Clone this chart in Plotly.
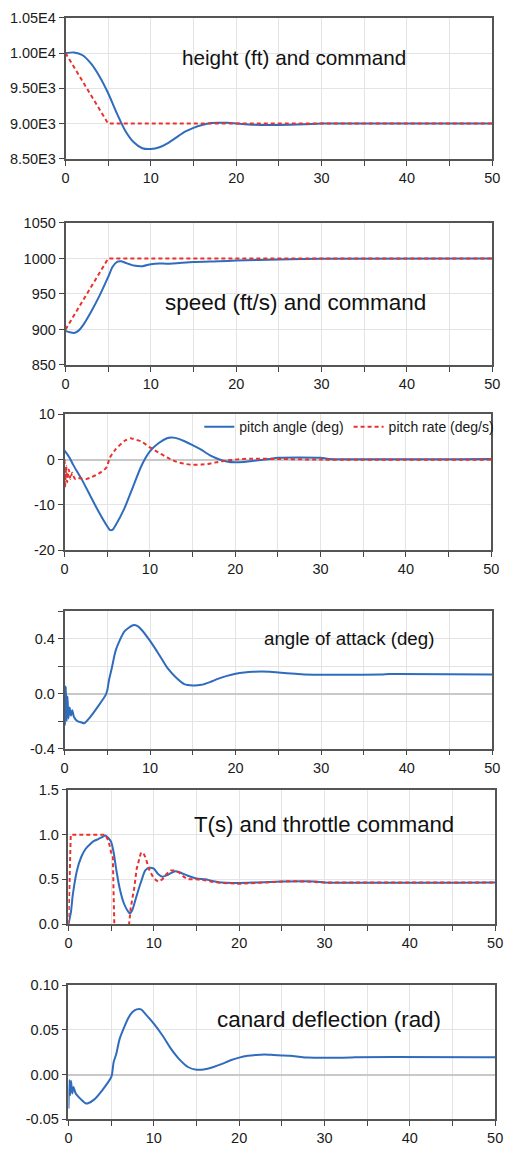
import plotly.graph_objects as go

# ---------------- data ----------------
# Panel 1: height (ft) and command
t_h = [0, 1, 2, 3, 4, 5, 6, 7, 8, 9, 10, 11, 12, 13, 14, 15, 16, 17, 18, 19, 20, 22, 25, 28, 30, 50]
height = [10000, 10010, 9970, 9850, 9665, 9430, 9150, 8900, 8735, 8650, 8640, 8665, 8725, 8805, 8885,
          8940, 8980, 9008, 9012, 9012, 9003, 8985, 8982, 8990, 9000, 9000]
t_hcmd = [0, 5, 50]
height_cmd = [10000, 9000, 9000]

# Panel 2: speed (ft/s) and command
t_v = [0, 0.5, 1, 1.5, 2, 3, 4, 5, 5.5, 6, 6.5, 7, 8, 9, 10, 11, 12, 15, 18, 20, 25, 30, 50]
speed = [898, 896, 895, 898, 905, 925, 948, 974, 988, 995, 996, 994, 990, 989, 992, 993, 992.5,
         995, 996, 997, 998.5, 999.5, 1000]
t_vcmd = [0, 5, 50]
speed_cmd = [900, 1000, 1000]

# Panel 3: pitch angle and pitch rate
t_th = [0, 0.5, 1, 2, 3, 4, 5, 5.3, 5.6, 6, 7, 8, 9, 10, 11, 12, 12.5, 13, 14, 15, 16, 17, 18, 19,
        20, 21, 22, 23, 24, 25, 30, 31, 50]
pitch_angle = [2.0, 0.7, -1.1, -4.3, -7.9, -11.5, -14.7, -15.5, -15.5, -14.4, -10.8, -6.1, -1.4, 1.8,
               3.6, 4.7, 4.9, 4.8, 4.1, 3.2, 2.2, 1.0, 0.15, -0.4, -0.6, -0.5, -0.3, -0.1, 0.15, 0.4,
               0.4, 0.15, 0.15]
t_q = [0, 0.05, 0.2, 0.3, 0.5, 0.7, 0.9, 1.2, 1.5, 2, 2.5, 3, 4, 4.8, 5, 5.3, 6, 7, 7.7, 8, 9, 10,
       11, 12, 13, 14, 15, 16, 17, 18, 19, 20, 21, 22, 25, 30, 50]
pitch_rate = [0, -6.1, -1.4, -5.0, -2.2, -4.3, -2.9, -4.2, -4.0, -4.2, -4.3, -4.0, -3.1, -2.0, -1.4,
              0.4, 2.3, 4.1, 4.7, 4.6, 4.0, 2.7, 1.6, 0.5, -0.4, -0.9, -1.15, -1.1, -0.9, -0.5,
              -0.2, 0, 0.15, 0.2, 0.15, 0, 0]

# Panel 4: angle of attack (deg)
t_a = [0, 0.05, 0.15, 0.25, 0.35, 0.45, 0.6, 0.75, 0.9, 1.1, 1.5, 2, 2.3, 3, 4, 4.8, 5, 5.2, 5.5,
       6, 7, 8, 8.5, 9, 10, 11, 12, 13, 14, 15, 16, 17, 18, 19, 20, 21, 22, 24, 25, 27, 28, 37,
       38, 50]
alpha = [0.06, -0.23, 0.05, -0.2, -0.02, -0.18, -0.1, -0.16, -0.12, -0.17, -0.2, -0.21, -0.215,
         -0.17, -0.085, -0.01, 0.025, 0.1, 0.18, 0.32, 0.455, 0.50, 0.495, 0.467, 0.385, 0.29,
         0.19, 0.12, 0.07, 0.06, 0.065, 0.085, 0.11, 0.13, 0.145, 0.155, 0.16, 0.16, 0.155, 0.145,
         0.14, 0.14, 0.143, 0.14]

# Panel 5: T(s) and throttle command
t_T = [0, 0.3, 0.5, 1, 1.5, 2, 2.5, 3, 3.5, 4, 4.3, 4.7, 5, 5.3, 5.6, 6, 6.5, 7, 7.2, 7.5, 8, 8.5,
       9, 9.5, 10, 10.5, 11, 11.5, 12, 12.5, 13, 14, 15, 16, 17, 18, 20, 22, 25, 29, 30, 50]
thrust = [0, 0.14, 0.32, 0.6, 0.75, 0.84, 0.89, 0.93, 0.95, 0.975, 0.99, 0.96, 0.92, 0.8, 0.61,
          0.4, 0.23, 0.14, 0.12, 0.16, 0.32, 0.47, 0.6, 0.63, 0.62, 0.56, 0.53, 0.545, 0.57, 0.59,
          0.58, 0.54, 0.51, 0.5, 0.48, 0.465, 0.46, 0.465, 0.475, 0.475, 0.465, 0.465]
t_tc = [0, 0.27, 4.3, 4.7, 5, 5.2, 5.3, 5.4, 7.0, 7.3, 7.7, 8, 8.5, 8.8, 9, 9.5, 10, 10.5, 11,
        11.5, 12, 12.5, 13, 13.5, 14, 15, 16, 17, 18, 20, 22, 24, 26, 28, 30, 50]
throttle_cmd = [0, 1.0, 1.0, 0.93, 0.8, 0.76, 0.3, -0.1, -0.1, 0.18, 0.4, 0.62, 0.8, 0.79, 0.75,
                0.6, 0.51, 0.475, 0.5, 0.56, 0.6, 0.6, 0.575, 0.53, 0.5, 0.5, 0.49, 0.47, 0.46,
                0.45, 0.46, 0.47, 0.48, 0.475, 0.465, 0.465]

# Panel 6: canard deflection (rad)
t_c = [0, 0.1, 0.2, 0.3, 0.45, 0.6, 0.8, 1, 1.5, 2, 2.3, 3, 4, 5, 5.1, 5.3, 5.6, 6, 7, 7.5, 8,
       8.5, 9, 10, 11, 12, 13, 14, 15, 16, 17, 18, 19, 20, 21, 22, 23, 24, 25, 26, 27, 28, 33,
       33.5, 50]
canard = [-0.038, -0.006, -0.023, -0.007, -0.021, -0.014, -0.02, -0.023, -0.028, -0.032, -0.032,
          -0.028, -0.017, -0.003, 0.0, 0.014, 0.023, 0.04, 0.063, 0.07, 0.073, 0.073, 0.068,
          0.057, 0.044, 0.029, 0.017, 0.0085, 0.0055, 0.006, 0.0085, 0.012, 0.016, 0.019, 0.021,
          0.022, 0.0225, 0.022, 0.0215, 0.021, 0.02, 0.019, 0.019, 0.0195, 0.0195]

# tick values / labels
x_tickvals = [0, 10, 20, 30, 40, 50]
y_ticks = [
    ([8500, 9000, 9500, 10000, 10500], ["8.50E3", "9.00E3", "9.50E3", "1.00E4", "1.05E4"]),
    ([850, 900, 950, 1000, 1050], ["850", "900", "950", "1000", "1050"]),
    ([-20, -10, 0, 10], ["-20", "-10", "0", "10"]),
    ([-0.4, 0.0, 0.4], ["-0.4", "0.0", "0.4"]),
    ([0, 0.5, 1.0, 1.5], ["0.0", "0.5", "1.0", "1.5"]),
    ([-0.05, 0.0, 0.05, 0.10], ["-0.05", "0.00", "0.05", "0.10"]),
]
y_ranges = [[8500, 10500], [850, 1050], [-20, 10], [-0.4, 0.6], [0, 1.5], [-0.05, 0.1]]

titles = ["height (ft) and command", "speed (ft/s) and command", "angle of attack (deg)",
          "T(s) and throttle command", "canard deflection (rad)"]
legend_names = ["pitch angle (deg)", "pitch rate (deg/s)"]

# ---------------- layout geometry ----------------
W, H = 510, 1149
BLUE = "#2f6cbd"
RED = "#e8322d"
GRID = "#e4e4e4"
FONT = "Liberation Sans, Arial, sans-serif"

# (left, right, top, bottom) pixel boxes of each plot area
boxes = [(63, 500, 10, 153), (63, 500, 218, 362), (62, 499, 412, 550),
         (62, 500, 612, 751), (66, 503, 793, 929), (66, 503, 991, 1127)]

fig = go.Figure()

def add(i, x, y, color, dash, name=None, legend=False, smooth=True):
    line = dict(color=color, width=2, dash=dash)
    if smooth:
        line.update(shape="spline", smoothing=0.6)
    fig.add_trace(go.Scatter(
        x=x, y=y, mode="lines", name=name, showlegend=legend, line=line,
        xaxis="x" if i == 0 else f"x{i+1}", yaxis="y" if i == 0 else f"y{i+1}"))

dash_red = "4px,3px"
add(0, t_h, height, BLUE, "solid")
add(0, t_hcmd, height_cmd, RED, dash_red, smooth=False)
add(1, t_v, speed, BLUE, "solid")
add(1, t_vcmd, speed_cmd, RED, dash_red, smooth=False)
add(2, t_th, pitch_angle, BLUE, "solid", legend_names[0], True)
add(2, t_q, pitch_rate, RED, dash_red, legend_names[1], True)
add(3, t_a, alpha, BLUE, "solid")
add(4, t_T, thrust, BLUE, "solid")
add(4, t_tc, throttle_cmd, RED, dash_red, smooth=False)
add(5, t_c, canard, BLUE, "solid")

layout = dict(
    width=W, height=H, margin=dict(l=0, r=0, t=0, b=0),
    paper_bgcolor="white", plot_bgcolor="white",
    font=dict(family=FONT, size=14.5, color="#1a1a1a"),
    showlegend=True,
    legend=dict(orientation="h", x=200 / W, y=1 - 425 / H, xanchor="left", yanchor="middle",
                bgcolor="rgba(255,255,255,0)", font=dict(size=14, family=FONT),
                itemwidth=30, tracegroupgap=0),
)

zero_on = [False, False, True, True, False, True]
for i, (l, r, t, b) in enumerate(boxes):
    xs = "xaxis" if i == 0 else f"xaxis{i+1}"
    ys = "yaxis" if i == 0 else f"yaxis{i+1}"
    yref = "y" if i == 0 else f"y{i+1}"
    xref = "x" if i == 0 else f"x{i+1}"
    layout[xs] = dict(
        domain=[l / W, r / W], anchor=yref, range=[0, 50], tickvals=x_tickvals,
        ticks="outside", ticklen=5, tickcolor="#444", showgrid=True, gridcolor=GRID,
        minor=dict(tickvals=[5, 15, 25, 35, 45], ticks="outside", ticklen=5, tickcolor="#444",
                   showgrid=True, gridcolor=GRID),
        showline=True, linecolor="#555", linewidth=1.5, mirror=True, zeroline=False,
        tickfont=dict(size=14.5))
    yd = dict(
        domain=[1 - b / H, 1 - t / H], anchor=xref, range=y_ranges[i],
        tickvals=y_ticks[i][0], ticktext=y_ticks[i][1], ticks="outside", ticklen=5,
        tickcolor="#444", showgrid=True, gridcolor=GRID, zeroline=zero_on[i],
        zerolinecolor="#c8c8c8", zerolinewidth=2, showline=True, linecolor="#555",
        linewidth=1.5, mirror=True, tickfont=dict(size=14.5))
    if i == 3:
        yd["minor"] = dict(tickvals=[-0.2, 0.2, 0.6], ticks="outside", ticklen=5,
                           tickcolor="#444", showgrid=True, gridcolor=GRID)
    layout[ys] = yd

fig.update_layout(**layout)

ann_pos = [(297, 50, 20.7), (299, 299, 22.5), (353, 639, 18.7), (328, 828, 22.2),
           (333, 1026, 22.4)]
for txt, (x, y, s) in zip(titles, ann_pos):
    fig.add_annotation(text=txt, x=x / W, y=1 - y / H, xref="paper", yref="paper",
                       showarrow=False, xanchor="center", yanchor="middle",
                       font=dict(size=s, family=FONT, color="#111"))

fig.write_html("out.html")
